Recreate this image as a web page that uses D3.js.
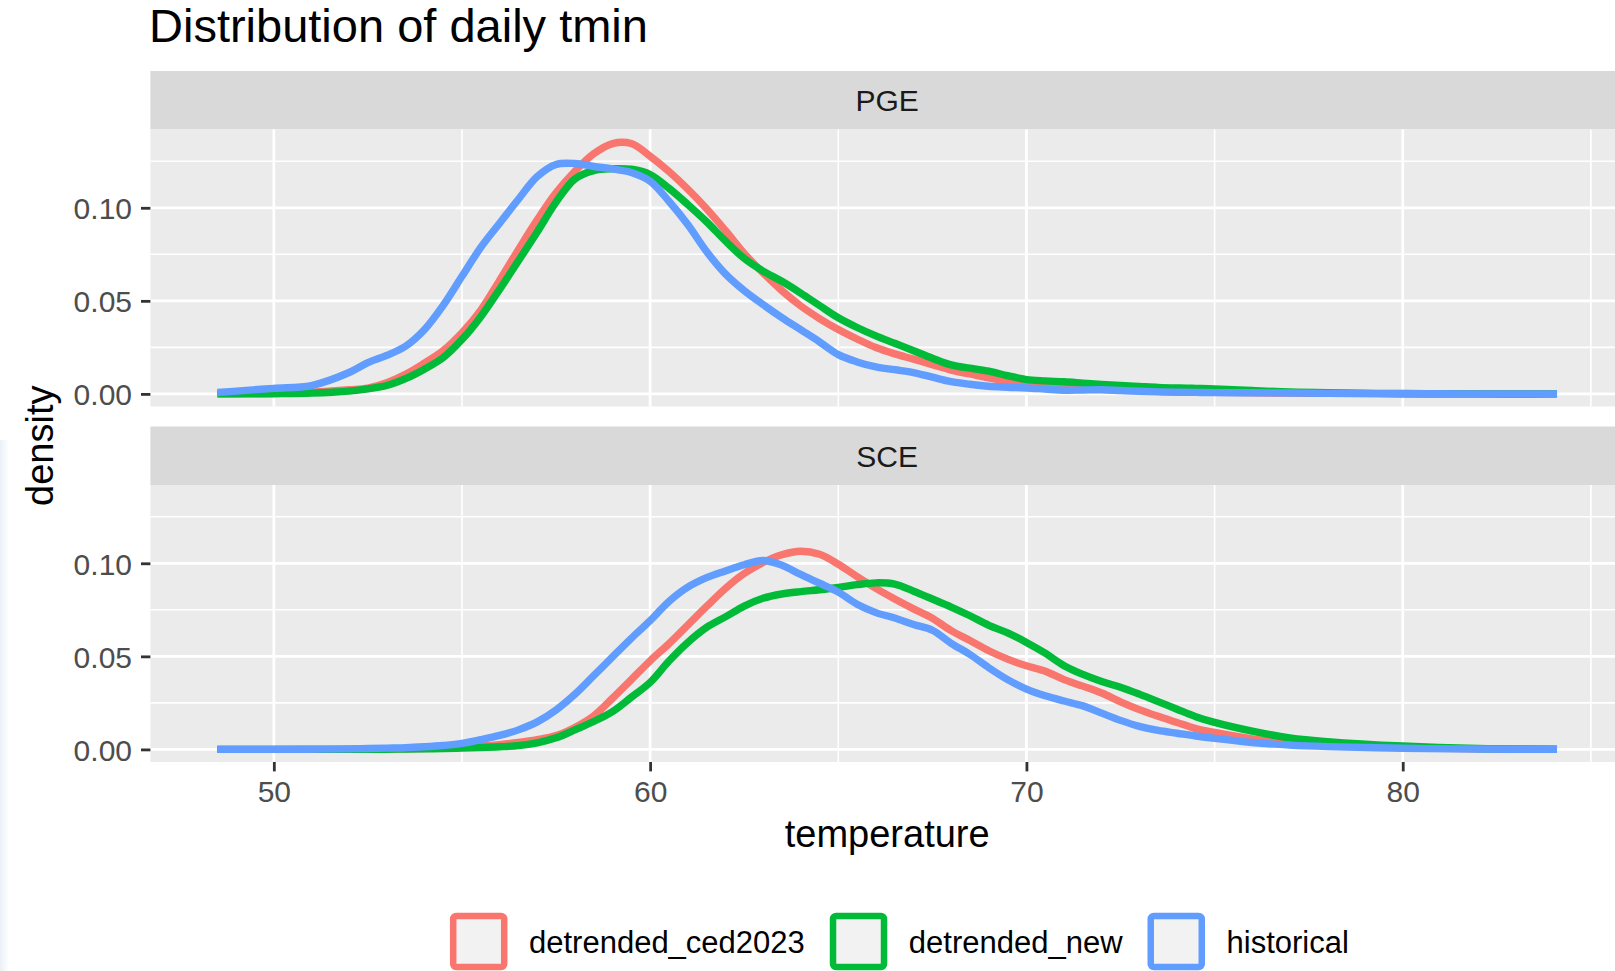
<!doctype html>
<html lang="en">
<head>
<meta charset="utf-8">
<script src="https://d3js.org/d3.v7.min.js"></script>
<title>Distribution of daily tmin</title>
<style>
  body { margin: 0; background: #fff; }
  svg { display: block; font-family: "Liberation Sans", Arial, sans-serif; }
</style>
</head>
<body>
<svg id="svg"></svg>
<script>
// temperature grid where the densities were read
const temps = [48.5, 49, 50, 51, 52, 52.5, 53, 53.5, 54, 54.5,
  55, 55.5, 56, 56.5, 57, 57.5, 58, 58.5, 59, 59.5,
  60, 60.5, 61, 61.5, 62, 62.5, 63, 63.5, 64, 64.5,
  65, 65.5, 66, 66.5, 67, 67.5, 68, 68.5, 69, 69.5,
  70, 70.5, 71, 71.5, 72, 72.5, 73, 73.5, 74, 74.5,
  75, 76, 77, 78, 80, 82, 84.1];

const facets = ["PGE", "SCE"];
const seriesNames = ["detrended_ced2023", "detrended_new", "historical"];
const seriesColors = ["#F8766D", "#00BA38", "#619CFF"];

// PGE
const pgeCed = [0.0000, 0.0001, 0.0003, 0.0009, 0.0022, 0.0031, 0.0060, 0.0105, 0.0165, 0.0232,
  0.0328, 0.0450, 0.0610, 0.0775, 0.0935, 0.1080, 0.1196, 0.1290, 0.1345, 0.1345,
  0.1277, 0.1195, 0.1100, 0.0995, 0.0878, 0.0755, 0.0650, 0.0555, 0.0473, 0.0405,
  0.0346, 0.0295, 0.0249, 0.0215, 0.0187, 0.0157, 0.0128, 0.0107, 0.0086, 0.0068,
  0.0050, 0.0042, 0.0035, 0.0030, 0.0025, 0.0021, 0.0018, 0.0015, 0.0013, 0.0011,
  0.0009, 0.0006, 0.0004, 0.0003, 0.0001, 0.0000, 0.0000];
const pgeNew = [0.0000, 0.0000, 0.0001, 0.0004, 0.0015, 0.0027, 0.0045, 0.0082, 0.0133, 0.0195,
  0.0292, 0.0415, 0.0562, 0.0715, 0.0870, 0.1030, 0.1155, 0.1200, 0.1210, 0.1207,
  0.1179, 0.1105, 0.1018, 0.0925, 0.0822, 0.0728, 0.0660, 0.0605, 0.0542, 0.0475,
  0.0409, 0.0357, 0.0312, 0.0272, 0.0232, 0.0192, 0.0156, 0.0138, 0.0122, 0.0098,
  0.0077, 0.0070, 0.0065, 0.0058, 0.0051, 0.0045, 0.0040, 0.0035, 0.0032, 0.0030,
  0.0027, 0.0018, 0.0010, 0.0006, 0.0002, 0.0000, 0.0000];
const pgeHist = [0.0008, 0.0015, 0.0030, 0.0045, 0.0115, 0.0168, 0.0207, 0.0256, 0.0345, 0.0476,
  0.0632, 0.0787, 0.0917, 0.1046, 0.1168, 0.1233, 0.1238, 0.1222, 0.1209, 0.1190,
  0.1143, 0.1035, 0.0910, 0.0765, 0.0645, 0.0555, 0.0480, 0.0410, 0.0345, 0.0280,
  0.0211, 0.0172, 0.0145, 0.0130, 0.0115, 0.0090, 0.0066, 0.0052, 0.0041, 0.0036,
  0.0032, 0.0026, 0.0020, 0.0021, 0.0022, 0.0018, 0.0014, 0.0011, 0.0009, 0.0008,
  0.0007, 0.0006, 0.0005, 0.0003, 0.0001, 0.0000, 0.0000];

// SCE
const sceCed = [0.0000, 0.0000, 0.0000, 0.0000, 0.0000, 0.0001, 0.0002, 0.0003, 0.0005, 0.0008,
  0.0012, 0.0018, 0.0026, 0.0037, 0.0052, 0.0074, 0.0118, 0.0180, 0.0275, 0.0375,
  0.0476, 0.0568, 0.0668, 0.0768, 0.0865, 0.0945, 0.1004, 0.1046, 0.1065, 0.1048,
  0.0995, 0.0928, 0.0865, 0.0808, 0.0755, 0.0705, 0.0638, 0.0585, 0.0530, 0.0485,
  0.0449, 0.0420, 0.0375, 0.0340, 0.0303, 0.0256, 0.0214, 0.0178, 0.0145, 0.0112,
  0.0091, 0.0057, 0.0036, 0.0024, 0.0010, 0.0003, 0.0000];
const sceNew = [0.0000, 0.0000, 0.0000, 0.0000, 0.0000, 0.0000, 0.0001, 0.0002, 0.0003, 0.0005,
  0.0007, 0.0010, 0.0014, 0.0020, 0.0035, 0.0062, 0.0105, 0.0150, 0.0203, 0.0280,
  0.0360, 0.0475, 0.0575, 0.0656, 0.0712, 0.0770, 0.0812, 0.0835, 0.0848, 0.0858,
  0.0870, 0.0885, 0.0895, 0.0888, 0.0850, 0.0808, 0.0765, 0.0718, 0.0667, 0.0626,
  0.0575, 0.0517, 0.0450, 0.0403, 0.0365, 0.0334, 0.0297, 0.0257, 0.0216, 0.0176,
  0.0145, 0.0098, 0.0062, 0.0042, 0.0018, 0.0005, 0.0001];
const sceHist = [0.0000, 0.0000, 0.0000, 0.0001, 0.0003, 0.0005, 0.0007, 0.0009, 0.0014, 0.0021,
  0.0032, 0.0052, 0.0075, 0.0105, 0.0148, 0.0212, 0.0296, 0.0396, 0.0497, 0.0597,
  0.0692, 0.0795, 0.0872, 0.0923, 0.0959, 0.0992, 0.1015, 0.0990, 0.0940, 0.0893,
  0.0845, 0.0780, 0.0735, 0.0706, 0.0671, 0.0640, 0.0570, 0.0510, 0.0439, 0.0375,
  0.0324, 0.0288, 0.0260, 0.0234, 0.0195, 0.0156, 0.0124, 0.0102, 0.0087, 0.0072,
  0.0059, 0.0037, 0.0023, 0.0015, 0.0006, 0.0002, 0.0000];

const densities = { PGE: [pgeCed, pgeNew, pgeHist], SCE: [sceCed, sceNew, sceHist] };

const xTicks = [50, 60, 70, 80];
const xMinor = [55, 65, 75, 85];
const yTicks = [0, 0.05, 0.10];
const yMinor = [0.025, 0.075, 0.125];

let width = 1615, height = 971;
let panelLeft = 150.4, panelRight = 1624;
let stripTop = 71, stripH = 58.5, panelH = 277, facetGap = 20;
let font = "'Liberation Sans', Arial, sans-serif";

let svg = d3.select("#svg").attr("width", width).attr("height", height);

// ggplot style 5% expansion
let xExt = d3.extent(temps);
let xPad = (xExt[1] - xExt[0]) * 0.05;
let xScale = d3.scaleLinear().domain([xExt[0] - xPad, xExt[1] + xPad]).range([panelLeft, panelRight]);

let yMax = 0.1353; // true peak of the PGE detrended_ced2023 curve
let yDomain = [-yMax * 0.05, yMax * 1.05];

svg.append("rect").attr("width", width).attr("height", height).attr("fill", "#fff");

// faint screenshot tint along the left edge
let defs = svg.append("defs");
let grad = defs.append("linearGradient").attr("id", "edge").attr("x1", 0).attr("x2", 1);
grad.append("stop").attr("offset", "0%").attr("stop-color", "#e9f0f6");
grad.append("stop").attr("offset", "100%").attr("stop-color", "#ffffff");
svg.append("rect").attr("x", 0).attr("y", 440).attr("width", 9).attr("height", 531).attr("fill", "url(#edge)");

svg.append("text")
  .attr("x", 149).attr("y", 42)
  .attr("font-size", 47).attr("fill", "#000")
  .text("Distribution of daily tmin");

let line = d3.line()
  .x(d => xScale(d.t))
  .y(d => d.y)
  .curve(d3.curveCatmullRom.alpha(0.5));

let lastBottom = 0;

facets.forEach((facet, fi) => {
  let sTop = stripTop + fi * (stripH + panelH + facetGap);
  let pTop = sTop + stripH;
  let pBottom = pTop + panelH;
  lastBottom = pBottom;
  let yScale = d3.scaleLinear().domain(yDomain).range([pBottom, pTop]);

  let g = svg.append("g");

  // strip
  g.append("rect").attr("x", panelLeft).attr("y", sTop)
    .attr("width", panelRight - panelLeft).attr("height", stripH).attr("fill", "#D9D9D9");
  g.append("text")
    .attr("x", (panelLeft + panelRight) / 2).attr("y", sTop + stripH / 2)
    .attr("dy", "0.36em").attr("text-anchor", "middle")
    .attr("font-size", 30).attr("fill", "#1A1A1A")
    .text(facet);

  // panel
  g.append("rect").attr("x", panelLeft).attr("y", pTop)
    .attr("width", panelRight - panelLeft).attr("height", panelH).attr("fill", "#EBEBEB");

  g.selectAll(".ymin").data(yMinor).join("line")
    .attr("x1", panelLeft).attr("x2", panelRight)
    .attr("y1", d => yScale(d)).attr("y2", d => yScale(d))
    .attr("stroke", "#fff").attr("stroke-width", 1.6);
  g.selectAll(".xmin").data(xMinor).join("line")
    .attr("y1", pTop).attr("y2", pBottom)
    .attr("x1", d => xScale(d)).attr("x2", d => xScale(d))
    .attr("stroke", "#fff").attr("stroke-width", 1.6);
  g.selectAll(".ymaj").data(yTicks).join("line")
    .attr("x1", panelLeft).attr("x2", panelRight)
    .attr("y1", d => yScale(d)).attr("y2", d => yScale(d))
    .attr("stroke", "#fff").attr("stroke-width", 2.8);
  g.selectAll(".xmaj").data(xTicks).join("line")
    .attr("y1", pTop).attr("y2", pBottom)
    .attr("x1", d => xScale(d)).attr("x2", d => xScale(d))
    .attr("stroke", "#fff").attr("stroke-width", 2.8);

  // density lines
  densities[facet].forEach((vals, si) => {
    let pts = temps.map((t, i) => ({ t: t, y: yScale(vals[i]) }));
    g.append("path")
      .attr("d", line(pts))
      .attr("fill", "none")
      .attr("stroke", seriesColors[si])
      .attr("stroke-width", 7.4)
      .attr("stroke-linejoin", "round");
  });

  // y axis
  let yAxis = g.append("g")
    .attr("transform", `translate(${panelLeft},0)`)
    .call(d3.axisLeft(yScale).tickValues(yTicks).tickFormat(d3.format(".2f")).tickSize(9.4).tickPadding(9));
  yAxis.select(".domain").remove();
  yAxis.selectAll(".tick line").attr("stroke", "#333333").attr("stroke-width", 2.8);
  yAxis.selectAll(".tick text")
    .attr("dy", "0.36em")
    .attr("font-family", font).attr("font-size", 30).attr("fill", "#4D4D4D");
});

// x axis below the last panel
let xAxis = svg.append("g")
  .attr("transform", `translate(0,${lastBottom})`)
  .call(d3.axisBottom(xScale).tickValues(xTicks).tickSize(9.4).tickPadding(9));
xAxis.select(".domain").remove();
xAxis.selectAll(".tick line").attr("stroke", "#333333").attr("stroke-width", 2.8);
xAxis.selectAll(".tick text")
  .attr("font-family", font).attr("font-size", 30).attr("fill", "#4D4D4D");

// axis titles
svg.append("text")
  .attr("x", (panelLeft + panelRight) / 2).attr("y", 847)
  .attr("text-anchor", "middle").attr("font-size", 38).attr("fill", "#000")
  .text("temperature");

svg.append("text")
  .attr("transform", `translate(53,${(stripTop + stripH + lastBottom) / 2}) rotate(-90)`)
  .attr("text-anchor", "middle").attr("font-size", 38).attr("fill", "#000")
  .text("density");

// legend
let legend = svg.append("g");
let lx = 450, keySize = 51, keyTop = 916;
seriesNames.forEach((name, i) => {
  legend.append("rect")
    .attr("x", lx + 3.2).attr("y", keyTop)
    .attr("width", keySize).attr("height", keySize)
    .attr("rx", 3)
    .attr("fill", "#F2F2F2")
    .attr("stroke", seriesColors[i]).attr("stroke-width", 6.5);
  let txt = legend.append("text")
    .attr("x", lx + 79).attr("y", 953)
    .attr("font-size", 31).attr("fill", "#000")
    .text(name);
  lx = lx + 79 + txt.node().getComputedTextLength() + 25;
});
</script>
</body>
</html>
